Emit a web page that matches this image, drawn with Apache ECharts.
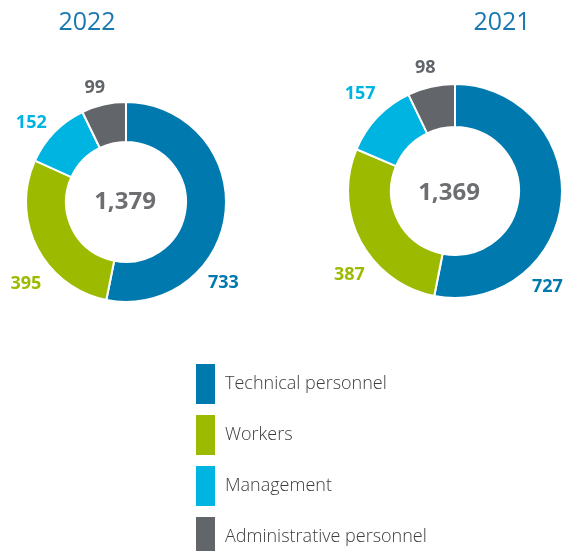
<!DOCTYPE html>
<html>
<head>
<meta charset="utf-8">
<script src="https://cdn.jsdelivr.net/npm/echarts@6/dist/echarts.min.js"></script>
<style>
  html, body { margin: 0; padding: 0; background: #fff; }
  #chart { width: 566px; height: 551px; }
</style>
</head>
<body>
<div id="chart"></div>
<script>
// data
const categories = ["Technical personnel", "Workers", "Management", "Administrative personnel"];
const years = ["2022", "2021"];
const values2022 = [733, 395, 152, 99];
const values2021 = [727, 387, 157, 98];

// style
const COLORS = ["#0079ae", "#9cba00", "#00b4e1", "#626569"];
const FONT = "'Open Sans', 'Noto Sans', sans-serif";
// label nudges (px) per series, per slice
const LABEL_NUDGE = [
  [[-24, 69], [9, 29], [-6, 3], [0, 0]],
  [[-36, 84], [9, 26], [0, -12], [3, -2]]
];

const chart = echarts.init(document.getElementById("chart"), null, { renderer: "canvas" });

const fmt = n => n.toLocaleString("en-US");
const sum = arr => arr.reduce((a, b) => a + b, 0);

function pieSeries(values, center, radius, si) {
  return {
    type: "pie",
    center: center,
    radius: radius,
    startAngle: 90,
    clockwise: true,
    avoidLabelOverlap: false,
    silent: true,
    itemStyle: { borderColor: "#fff", borderWidth: 2 },
    label: {
      show: true,
      position: "outside",
      formatter: "{c}",
      fontFamily: FONT,
      fontWeight: "bold",
      fontSize: 18
    },
    labelLine: { show: false, length: 17, length2: 0 },
    labelLayout: function (p) {
      const n = LABEL_NUDGE[si][p.dataIndex];
      return { align: "center", dx: n[0], dy: n[1] };
    },
    data: values.map((v, i) => ({
      name: categories[i],
      value: v,
      itemStyle: { color: COLORS[i] },
      label: { color: COLORS[i] }
    }))
  };
}

const centers = [[126, 202], [455, 191]];

function titleText(text, x, y, style) {
  return { text: text, left: x, top: y, padding: 0, textAlign: "center", textVerticalAlign: "middle",
    textStyle: Object.assign({ fontFamily: FONT }, style) };
}
const yearStyle = { color: "#1a78b0", fontSize: 25, fontWeight: "normal" };
const totalStyle = { color: "#6d6e71", fontSize: 24, fontWeight: "bold" };

chart.setOption({
  backgroundColor: "#fff",
  animation: false,
  title: [
    titleText(years[0], 87, 23, yearStyle),
    titleText(years[1], 502, 23, yearStyle),
    titleText(fmt(sum(values2022)), 125, 202, totalStyle),
    titleText(fmt(sum(values2021)), 449, 193, totalStyle)
  ],
  legend: {
    orient: "vertical",
    left: 189,
    top: 357,
    height: 220,
    icon: "rect",
    itemWidth: 21,
    itemHeight: 42,
    itemGap: 7,
    selectedMode: false,
    data: categories,
    textStyle: { color: "#3c3c3c", fontSize: 18, fontWeight: 300, fontFamily: FONT, padding: [0, 0, 0, 4] }
  },
  series: [
    pieSeries(values2022, centers[0], [60, 100], 0),
    pieSeries(values2021, centers[1], [64, 107], 1)
  ]
});
</script>
</body>
</html>
